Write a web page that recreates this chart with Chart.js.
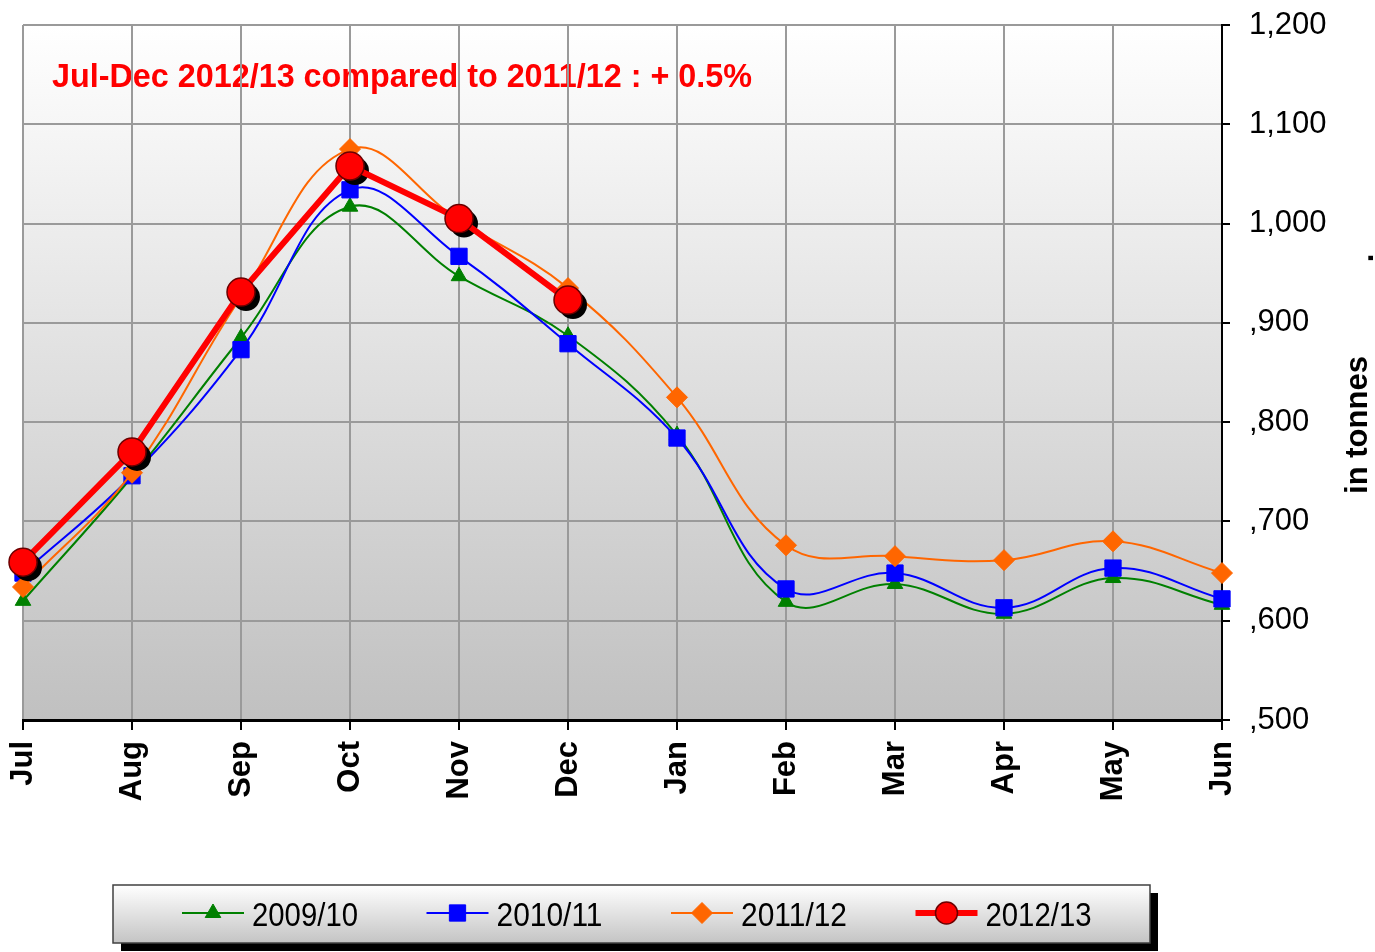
<!DOCTYPE html>
<html>
<head>
<meta charset="utf-8">
<script src="https://cdn.jsdelivr.net/npm/chart.js@4.4.0/dist/chart.umd.min.js"></script>
<style>
  html, body { margin: 0; padding: 0; background: #fff; }
</style>
</head>
<body>
<canvas id="chart" width="1375" height="952"></canvas>
<script>
// Monthly volumes, July to June, one array per marketing year
const months = ['Jul', 'Aug', 'Sep', 'Oct', 'Nov', 'Dec', 'Jan', 'Feb', 'Mar', 'Apr', 'May', 'Jun'];
const yTickLabels = [',500', ',600', ',700', ',800', ',900', '1,000', '1,100', '1,200'];
const seriesNames = ['2009/10', '2010/11', '2011/12', '2012/13'];

const vol0910 = [620, 745, 885, 1017, 947, 887, 787, 619, 637, 607, 643, 616];
const vol1011 = [648, 746, 873, 1034, 967, 879, 784, 632, 648, 613, 653, 622];
const vol1112 = [634, 749, 926, 1075, 1003, 935, 825, 676, 665, 661, 680, 648];
const vol1213 = [659, 770, 931, 1058, 1005, 923];

const headline = 'Jul-Dec 2012/13 compared to 2011/12 : + 0.5%';
const axisTitle = 'in tonnes';

const FONT = "'Liberation Sans', Arial, sans-serif";

// squeeze a string into a given width, like the narrow export font
function drawNarrow(ctx, text, x, y, font, width) {
  ctx.save();
  ctx.font = font;
  const w = ctx.measureText(text).width;
  ctx.translate(x, y);
  ctx.scale(width / w, 1);
  ctx.fillText(text, 0, 0);
  ctx.restore();
}

// gradient plot area + headline (grid is drawn over it)
const plotBack = {
  id: 'plotBack',
  beforeDraw(chart) {
    const { ctx, chartArea: a } = chart;
    ctx.save();
    const g = ctx.createLinearGradient(0, a.top, 0, a.bottom);
    g.addColorStop(0, '#ffffff');
    g.addColorStop(1, '#c0c0c0');
    ctx.fillStyle = g;
    ctx.fillRect(a.left, a.top, a.right - a.left, a.bottom - a.top);
    ctx.fillStyle = '#ff0000';
    ctx.textBaseline = 'alphabetic';
    drawNarrow(ctx, headline, 52, 87, 'bold 34px ' + FONT, 700);
    ctx.restore();
  }
};

// black drop shadow under the 2012/13 circles
const circleShadow = {
  id: 'circleShadow',
  beforeDatasetDraw(chart, args) {
    if (args.index !== 3) return;
    const ctx = chart.ctx;
    ctx.save();
    ctx.fillStyle = '#000';
    args.meta.data.forEach(p => {
      if (p.skip) return;
      ctx.beginPath();
      ctx.arc(p.x + 5, p.y + 5, 14, 0, Math.PI * 2);
      ctx.fill();
    });
    ctx.restore();
  }
};

// axis title on the right and the boxed legend at the bottom
const extras = {
  id: 'extras',
  afterDraw(chart) {
    const ctx = chart.ctx;
    ctx.save();
    ctx.fillStyle = '#000';
    ctx.textAlign = 'center';
    ctx.textBaseline = 'middle';
    ctx.font = 'bold 31px ' + FONT;
    ctx.translate(1358, 425);
    ctx.rotate(-Math.PI / 2);
    ctx.fillText(axisTitle, 0, 0);
    ctx.fillText('.', 167, 6);
    ctx.restore();

    // legend box
    const bx = 113, by = 885, bw = 1037, bh = 58;
    ctx.save();
    ctx.fillStyle = '#000';
    ctx.fillRect(bx + 8, by + 8, bw, bh);
    const g = ctx.createLinearGradient(0, by, 0, by + bh);
    g.addColorStop(0, '#ffffff');
    g.addColorStop(1, '#c4c4c4');
    ctx.fillStyle = g;
    ctx.fillRect(bx, by, bw, bh);
    ctx.strokeStyle = '#404040';
    ctx.lineWidth = 1.5;
    ctx.strokeRect(bx, by, bw, bh);

    const cy = 913;
    chart.data.datasets.forEach((ds, i) => {
      const x0 = 182 + i * 244.5;
      ctx.strokeStyle = ds.borderColor;
      ctx.lineWidth = ds.borderWidth;
      ctx.beginPath();
      ctx.moveTo(x0, cy);
      ctx.lineTo(x0 + 62, cy);
      ctx.stroke();
      ctx.fillStyle = ds.pointBackgroundColor;
      ctx.strokeStyle = ds.pointBorderColor;
      ctx.lineWidth = ds.pointBorderWidth;
      Chart.helpers.drawPoint(ctx, {
        pointStyle: ds.pointStyle,
        radius: ds.pointStyle === 'circle' ? 11 : ds.pointRadius,
        rotation: 0,
        borderWidth: ds.pointBorderWidth
      }, x0 + 31, cy);
      ctx.fillStyle = '#000';
      ctx.textAlign = 'left';
      ctx.textBaseline = 'alphabetic';
      drawNarrow(ctx, ds.label, x0 + 70, 926, '33px ' + FONT, 106);
    });
    ctx.restore();
  }
};

const lineStyle = (label, data, color, style, radius, order) => ({
  label: label,
  data: data,
  borderColor: color,
  backgroundColor: color,
  borderWidth: 2,
  pointStyle: style,
  pointRadius: radius,
  pointBackgroundColor: color,
  pointBorderColor: color,
  pointBorderWidth: 1,
  tension: 0.4,
  clip: false,
  order: order
});

const datasets = [
  lineStyle(seriesNames[0], vol0910, '#008000', 'triangle', 9, 3),
  lineStyle(seriesNames[1], vol1011, '#0000ff', 'rect', 11.5, 2),
  lineStyle(seriesNames[2], vol1112, '#ff6600', 'rectRot', 10.5, 1),
  {
    label: seriesNames[3],
    data: vol1213,
    borderColor: '#ff0000',
    backgroundColor: '#ff0000',
    borderWidth: 6,
    pointStyle: 'circle',
    pointRadius: 14,
    pointBackgroundColor: '#ff0000',
    pointBorderColor: '#6b0000',
    pointBorderWidth: 1.5,
    tension: 0,
    clip: false,
    order: 0
  }
];

new Chart(document.getElementById('chart'), {
  type: 'line',
  data: { labels: months, datasets: datasets },
  plugins: [plotBack, circleShadow, extras],
  options: {
    responsive: false,
    animation: false,
    events: [],
    layout: { padding: { left: 23, top: 25, right: 0, bottom: 0 } },
    plugins: {
      legend: { display: false },
      tooltip: { enabled: false }
    },
    scales: {
      x: {
        grid: { color: '#9a9a9a', lineWidth: 2, tickColor: '#000', tickLength: 10, tickWidth: 2 },
        border: { color: '#000', width: 3 },
        ticks: {
          color: '#000',
          font: { family: FONT, size: 31, weight: 'bold' },
          minRotation: 90,
          maxRotation: 90,
          autoSkip: false,
          padding: 11
        },
        afterFit(s) {
          s.height = 232;
          s.paddingLeft = 0;
          s.paddingRight = 0;
        }
      },
      y: {
        position: 'right',
        min: 500,
        max: 1200,
        grid: { color: '#9a9a9a', lineWidth: 2, tickColor: '#000', tickLength: 8, tickWidth: 2 },
        border: { color: '#000', width: 2 },
        ticks: {
          stepSize: 100,
          color: '#000',
          font: { family: FONT, size: 31 },
          padding: 19,
          callback: (v, i) => yTickLabels[i]
        },
        afterFit(s) {
          s.width = 153;
          s.paddingTop = 0;
          s.paddingBottom = 0;
        }
      }
    }
  }
});
</script>
</body>
</html>
